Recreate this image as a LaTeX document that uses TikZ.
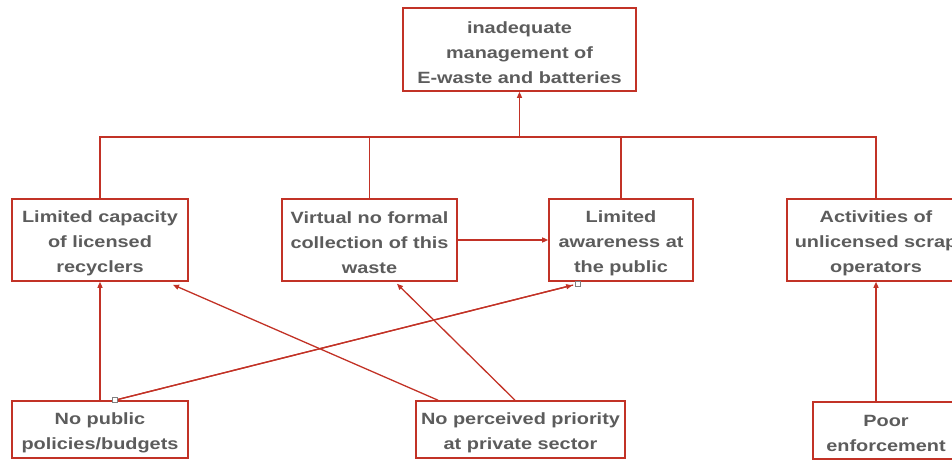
\documentclass[tikz,border=0pt]{standalone}
\usepackage{fontspec}
\setmainfont{Liberation Sans}[FakeStretch=1.22]
\usetikzlibrary{arrows.meta,calc}
\definecolor{wred}{RGB}{194,50,38}
\definecolor{tgray}{RGB}{92,92,92}
% invisible strut that sets the text a little lower in each box
\newcommand\boxtop{\rule{0pt}{18pt}}
\begin{document}
\begin{tikzpicture}[x=1pt,y=-1pt,
  box/.style={draw=wred, line width=1.6pt, fill=white, align=center,
    text=tgray, inner sep=0pt,
    font=\bfseries\fontsize{16.3}{25}\selectfont},
  tall/.style={minimum height=82pt},
  short/.style={minimum height=57pt},
  link/.style={draw=wred, line width=1.3pt},
  arrowlink/.style={link, -{Triangle[length=6pt,width=5pt]}},
  waypt/.style={draw=gray, fill=white, line width=0.5pt, minimum size=5pt,
    inner sep=0pt}]
\useasboundingbox (0,0) rectangle (952,461);
\clip (0,0) rectangle (952,461);

% top-level problem
\node[box, minimum width=233pt, minimum height=83pt] (top) at (519.5,49.5)
  {\boxtop inadequate\\management of\\E-waste and batteries};

% direct causes
\node[box, tall, minimum width=176pt] (lic) at (100,240)
  {\boxtop Limited capacity\\of licensed\\recyclers};
\node[box, tall, minimum width=175pt] (coll) at (369.5,240)
  {\boxtop Virtual no formal\\collection of this\\waste};
\node[box, tall, minimum width=144pt] (aware) at (621,240)
  {\boxtop Limited\\awareness at\\the public};
\node[box, tall, minimum width=178pt] (scrap) at (876,240)
  {\boxtop Activities of\\unlicensed scrap\\operators};

% root causes
\node[box, short, minimum width=176pt] (pol) at (100,429.5)
  {\boxtop No public\\policies/budgets};
\node[box, short, minimum width=209pt] (prio) at (520.5,429.5)
  {\boxtop No perceived priority\\at private sector};
\node[box, short, minimum width=146pt] (enf) at (886,430.5)
  {\boxtop Poor\\enforcement};

% bus joining the direct causes to the top box
\coordinate (bus) at (519.5,137);
\draw[link] (lic.north) |- (bus);
\draw[link] (coll.north) |- (bus);
\draw[link] (aware.north) |- (bus);
\draw[link] (scrap.north) |- (bus);
\draw[arrowlink] (bus) -- (top.south);

% cause links
\draw[arrowlink] (coll.east) -- (aware.west);
\draw[arrowlink] (pol.north) -- (lic.south);
\coordinate (polA) at ($(pol.north)+(15,0)$);
\coordinate (awA) at ($(aware.south)+(-43,2)$);
\draw[arrowlink] (polA) -- ($(awA)!6pt!(polA)$);
\draw[link, shorten >=5pt] (polA) -- (awA);
\draw[arrowlink] ($(prio.north)+(-82.5,0)$) -- ($(lic.south)+(73,3)$);
\draw[arrowlink] ($(prio.north)+(-5.5,0)$) -- ($(coll.south)+(27.5,2)$);
\draw[arrowlink] (enf.north -| scrap.south) -- (scrap.south);

% waypoint handles
\node[waypt] (h1) at (polA) {};
\node[waypt] (h2) at (awA) {};
\end{tikzpicture}
\end{document}
